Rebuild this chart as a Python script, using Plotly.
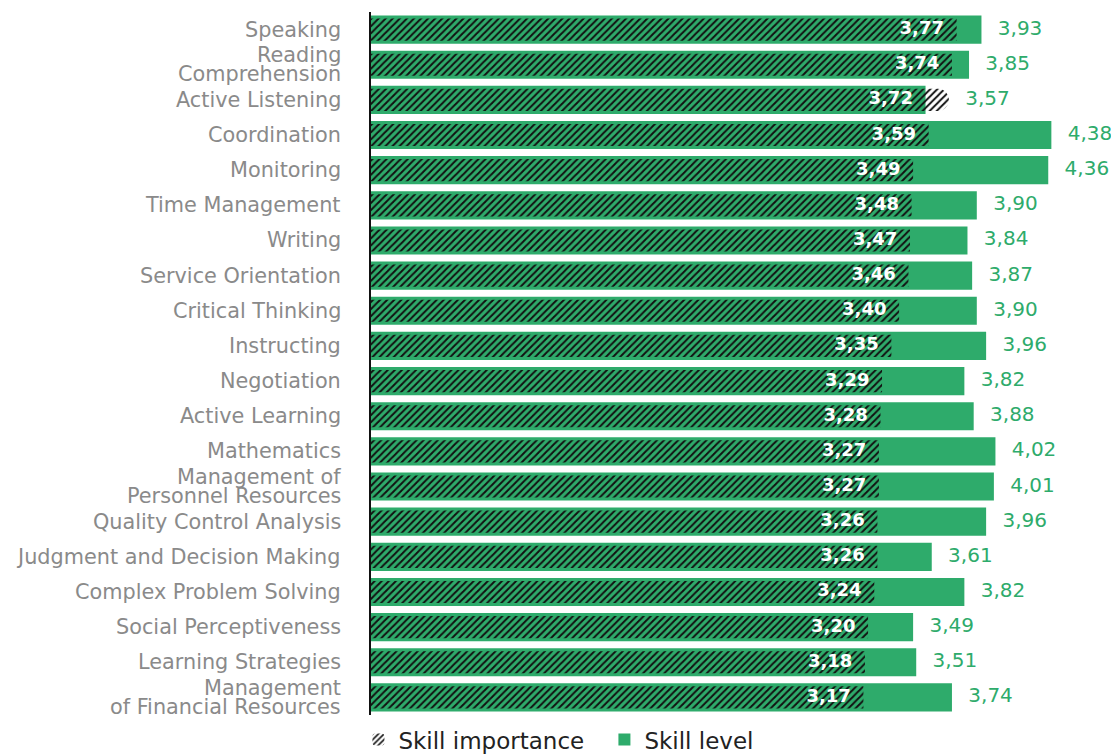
import plotly.graph_objects as go

# Skills ordered top to bottom
skills = [
    "Speaking", "Reading<br>Comprehension", "Active Listening", "Coordination",
    "Monitoring", "Time Management", "Writing", "Service Orientation",
    "Critical Thinking", "Instructing", "Negotiation", "Active Learning",
    "Mathematics", "Management of<br>Personnel Resources",
    "Quality Control Analysis", "Judgment and Decision Making",
    "Complex Problem Solving", "Social Perceptiveness",
    "Learning Strategies", "Management<br>of Financial Resources",
]
importance = [3.77, 3.74, 3.72, 3.59, 3.49, 3.48, 3.47, 3.46, 3.40, 3.35,
              3.29, 3.28, 3.27, 3.27, 3.26, 3.26, 3.24, 3.20, 3.18, 3.17]
level = [3.93, 3.85, 3.57, 4.38, 4.36, 3.90, 3.84, 3.87, 3.90, 3.96,
         3.82, 3.88, 4.02, 4.01, 3.96, 3.61, 3.82, 3.49, 3.51, 3.74]

GREEN = "#2EAB6B"
GREY = "#8A8A8A"
FONT = "DejaVu Sans"
LINE_H = 19  # line spacing of the wrapped category labels, px

# level labels sit just past whichever bar reaches further;
# importance labels stay over the green part of the row
level_label_pos = [max(a, b) for a, b in zip(importance, level)]
imp_label_pos = [min(a, b) for a, b in zip(importance, level)]

fig = go.Figure()

# Skill level: solid green bars
fig.add_trace(go.Bar(
    y=skills, x=level, orientation="h", name="Skill level",
    marker=dict(color=GREEN, line=dict(width=0)),
    width=0.8, legendrank=2, hoverinfo="x+y",
))

# Skill importance: hatched rounded bars overlaid on top
fig.add_trace(go.Bar(
    y=skills, x=importance, orientation="h", name="Skill importance",
    marker=dict(
        color="rgba(0,0,0,0)", line=dict(width=0), cornerradius=11,
        pattern=dict(shape="/", fgcolor="#111111", bgcolor="rgba(0,0,0,0)",
                     size=5, solidity=0.4, fillmode="replace"),
    ),
    width=0.63, legendrank=1, hoverinfo="x+y",
))

# Importance values, white bold, near the end of the hatched bar
fig.add_trace(go.Scatter(
    y=skills, x=imp_label_pos, mode="text", showlegend=False, hoverinfo="skip",
    text=[f"{v:.2f}".replace(".", ",") for v in importance],
    texttemplate="<b>%{text}</b>\u2002\u2009", textposition="middle left",
    textfont=dict(color="white", size=18, family=FONT), cliponaxis=False,
))

# Level values, green, after the bars
fig.add_trace(go.Scatter(
    y=skills, x=level_label_pos, mode="text", showlegend=False, hoverinfo="skip",
    text=[f"{v:.2f}".replace(".", ",") for v in level],
    texttemplate="\u2002\u00a0%{text}", textposition="middle right",
    textfont=dict(color=GREEN, size=20, family=FONT), cliponaxis=False,
))

# Category labels, right-aligned left of the axis, wrapped lines kept tight
annotations = []
for s in skills:
    lines = s.split("<br>")
    n = len(lines)
    for i, line in enumerate(lines):
        annotations.append(dict(
            xref="paper", x=0, xanchor="right", xshift=-28,
            yref="y", y=s, yanchor="middle", yshift=((n - 1) / 2 - i) * LINE_H,
            text=line, showarrow=False,
            font=dict(size=20.8, color=GREY, family=FONT),
        ))

fig.update_layout(
    barmode="overlay",
    width=1111, height=755,
    margin=dict(l=371, r=41, t=12, b=40, autoexpand=False),
    plot_bgcolor="white", paper_bgcolor="white",
    font=dict(family=FONT),
    showlegend=True,
    legend=dict(orientation="h", x=-0.018, xanchor="left",
                y=-0.035, yanchor="middle",
                font=dict(size=23, color="#222222", family=FONT),
                itemwidth=30, entrywidth=201, entrywidthmode="pixels",
                traceorder="normal"),
    xaxis=dict(range=[0, 4.5], visible=False, fixedrange=True),
    yaxis=dict(
        range=[len(skills) - 0.5, -0.5], showline=True, linecolor="#111111",
        linewidth=1.5, ticks="", showgrid=False, showticklabels=False,
        fixedrange=True,
    ),
    annotations=annotations,
)

fig.write_html("out.html")
